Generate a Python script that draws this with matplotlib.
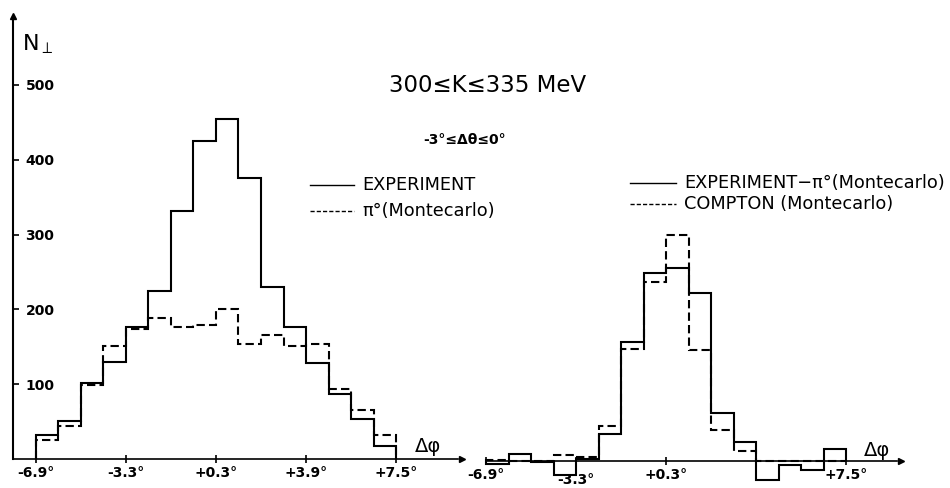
import matplotlib
matplotlib.use("Agg")
import matplotlib.pyplot as plt
from matplotlib.lines import Line2D

# bin edges in delta-phi (degrees), 0.9 deg bins
edges = [-6.9, -6.0, -5.1, -4.2, -3.3, -2.4, -1.5, -0.6, 0.3,
         1.2, 2.1, 3.0, 3.9, 4.8, 5.7, 6.6, 7.5]

# left panel: measured counts and pi0 Montecarlo
experiment = [32, 51, 102, 130, 176, 224, 332, 425, 455, 376, 230, 176, 128, 87, 53, 18]
pi0_mc = [26, 44, 99, 151, 174, 188, 176, 179, 200, 154, 166, 151, 154, 94, 66, 32]

# right panel: experiment minus pi0, and Compton Montecarlo
exp_minus_pi0 = [-4, 10, -1, -19, 3, 36, 159, 251, 258, 225, 64, 25, -26, -6, -12, 16]
compton_mc = [2, 0, 0, 8, 6, 47, 150, 239, 302, 148, 41, 13, 0, 0, 0, 0]

tick_pos = [-6.9, -3.3, 0.3, 3.9, 7.5]
tick_lab = ["-6.9°", "-3.3°", "+0.3°", "+3.9°", "+7.5°"]
y_ticks = [100, 200, 300, 400, 500]

W, H = 950, 488
PX_PER_DEG = 25.0
PX_PER_N = 0.748
BASE = 459          # pixel row of N = 0
LW = 1.5
DASH = (0, (4, 2))

fig = plt.figure(figsize=(W / 100, H / 100), dpi=100)


def fx(x):
    return x / W


def fy(y):
    return 1 - y / H


def deg_at(px, origin):
    # origin = pixel column of +0.3 deg
    return 0.3 + (px - origin) / PX_PER_DEG


ymin = -(H - BASE) / PX_PER_N
ymax = BASE / PX_PER_N


def make_panel(left, right, origin, dy=0):
    ax = fig.add_axes([fx(left), -dy / H, (right - left) / W, 1])
    ax.set_xlim(deg_at(left, origin), deg_at(right, origin))
    ax.set_ylim(ymin, ymax)
    ax.patch.set_visible(False)
    for s in ("top", "right", "left"):
        ax.spines[s].set_visible(False)
    ax.spines["bottom"].set_position(("data", 0))
    ax.spines["bottom"].set_linewidth(1.2)
    ax.tick_params(axis="x", direction="inout", length=6, width=1.2,
                   labelsize=10, pad=2)
    ax.set_yticks([])
    return ax


# ---- left panel ----
axl = make_panel(13, 475, 216)
axl.spines["bottom"].set_bounds(deg_at(13, 216), deg_at(458, 216))
axl.plot([deg_at(462, 216)], [0], marker=">", ms=5, color="black", clip_on=False)
axl.spines["left"].set_visible(True)
axl.spines["left"].set_linewidth(1.5)
axl.spines["left"].set_bounds(0, 590)
axl.plot([deg_at(13, 216)], [592], marker="^", ms=4, color="black", clip_on=False)
axl.set_yticks(y_ticks)
axl.set_yticklabels([str(v) for v in y_ticks])
axl.tick_params(axis="y", direction="in", length=4, width=1.2,
                labelsize=10, pad=-9)
for lbl in axl.get_yticklabels():
    lbl.set_ha("left")
    lbl.set_fontweight("bold")
axl.set_xticks(tick_pos)
axl.set_xticklabels(tick_lab)
for lbl in axl.get_xticklabels():
    lbl.set_fontweight("bold")

axl.stairs(experiment, edges, baseline=0, color="black", lw=LW)
axl.stairs(pi0_mc, edges, baseline=0, color="black", lw=LW, ls=DASH)

# ---- right panel ----
axr = make_panel(480, 950, 666, dy=2)
axr.spines["bottom"].set_bounds(-6.9, deg_at(897, 666))
axr.plot([deg_at(901, 666)], [0], marker=">", ms=5, color="black", clip_on=False)
axr.set_xticks([-6.9, -3.3, 0.3, 7.5])
axr.set_xticklabels(["-6.9°", "", "+0.3°", "+7.5°"])
for lbl in axr.get_xticklabels():
    lbl.set_fontweight("bold")
axr.text(-3.3, -26, "-3.3°", ha="center", va="center", fontsize=10,
         fontweight="bold")

axr.stairs(exp_minus_pi0, edges, baseline=0, color="black", lw=LW)
axr.stairs(compton_mc, edges, baseline=0, color="black", lw=LW, ls=DASH)

# ---- labels ----
fig.text(fx(22), fy(44), "N$_{\\perp}$", fontsize=16, ha="left", va="center")
fig.text(fx(488), fy(85), "300≤K≤335 MeV", fontsize=16.5, ha="center", va="center")
fig.text(fx(465), fy(140), "-3°≤Δθ≤0°", fontsize=10, fontweight="bold",
         ha="center", va="center")
fig.text(fx(428), fy(447), "Δφ", fontsize=14, ha="center", va="center")
fig.text(fx(877), fy(451), "Δφ", fontsize=14, ha="center", va="center")


def legend_row(x0, x1, y, text, dashed=False):
    fig.add_artist(Line2D([fx(x0), fx(x1)], [fy(y), fy(y)],
                          transform=fig.transFigure, color="black", lw=1.0,
                          ls=(0, (3, 1.5)) if dashed else "-"))
    fig.text(fx(x1 + 8), fy(y), text, fontsize=12.8, ha="left", va="center")


legend_row(310, 354, 185, "EXPERIMENT")
legend_row(310, 354, 211, "π°(Montecarlo)", dashed=True)
legend_row(630, 676, 183, "EXPERIMENT−π°(Montecarlo)")
legend_row(630, 676, 204, "COMPTON (Montecarlo)", dashed=True)

fig.savefig("out.png", dpi=100)
